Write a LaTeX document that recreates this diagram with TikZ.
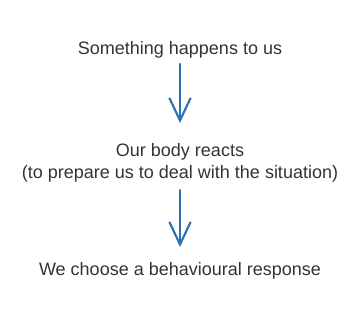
\documentclass[tikz,border=0pt]{standalone}
\usepackage{fontspec}
\setmainfont{Liberation Sans}
\usepackage{tikz}
\usetikzlibrary{arrows.meta,positioning}
\definecolor{flInk}{HTML}{333333}
\definecolor{flBlue}{HTML}{2A72B4}
\tikzset{
  fltext/.style={
    inner sep=0pt,
    align=center,
    text=flInk,
    font=\fontsize{13.5pt}{16.5pt}\selectfont
  },
  flarrow/.style={
    draw=flBlue,
    line width=2.2pt,
    line cap=round,
    -{Straight Barb[length=17pt,width=16pt,line width=1.6pt]}
  }
}
\begin{document}
\begin{tikzpicture}[x=0.75pt,y=-0.75pt]
  \useasboundingbox (0,0) rectangle (361,319);
  \node[fltext, anchor=base] (happen) at (180,54) {Something happens to us};
  \node[fltext, anchor=north] (reacts) at (180,143) {Our body reacts\\(to prepare us to deal with the situation)};
  \node[fltext, anchor=base] (choose) at (180,275) {We choose a behavioural response};

  \draw[flarrow, shorten <=4.5pt, shorten >=15pt] (happen.south) -- (reacts.north);
  \draw[flarrow, shorten <=6pt, shorten >=11pt] (reacts.south) -- (choose.north);
\end{tikzpicture}
\end{document}
